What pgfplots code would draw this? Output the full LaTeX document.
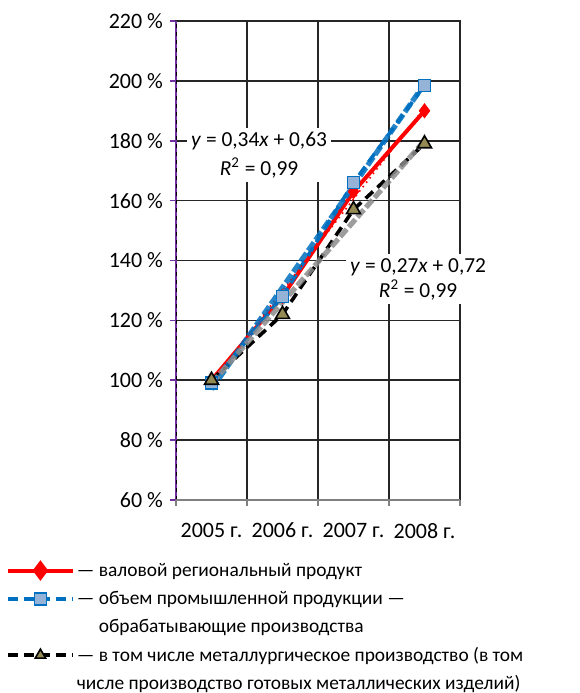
\documentclass[border=0pt]{standalone}
\usepackage{pgfplots}
\pgfplotsset{compat=1.18}
\usepackage{fontspec}
\setmainfont{Carlito}
\definecolor{xlred}{RGB}{255,0,0}
\definecolor{xlblue}{RGB}{0,112,192}
\definecolor{xlsq}{RGB}{149,179,215}
\definecolor{xltri}{RGB}{148,138,84}
\definecolor{xlgray}{RGB}{140,140,140}
\definecolor{xlviolet}{RGB}{112,48,160}
\begin{document}
\begin{tikzpicture}
\begin{axis}[
    name=ax,
    scale only axis,
    width=142pt, height=239.5pt,
    xmin=0, xmax=4, ymin=60, ymax=220,
    axis line style={black!85, line width=0.8pt},
    xtick={0.5,1.5,2.5,3.5},
    xticklabels={2005 г., 2006 г., 2007 г., 2008 г.},
    x tick label style={yshift=-5pt},
    xtick pos=left, ytick pos=left,
    ytick={60,80,...,220},
    yticklabel={\pgfmathprintnumber{\tick}~\%},
    /pgf/number format/assume math mode=true,
    tick label style={font=\fontsize{11}{13}\selectfont},
    ymajorgrids=true,
    major grid style={black!85, line width=0.8pt},
    minor xtick={1,2,3},
    xminorgrids=true,
    minor grid style={black!85, line width=0.8pt},
    tick align=outside,
    major tick length=3pt,
    minor tick length=0pt,
    xtick style={draw=none},
    ytick style={xlviolet, line width=0.8pt},
    clip=false,
    legend style={at={(axis description cs:-0.60,-0.117)}, anchor=north west,
        draw=none, fill=none, font=\fontsize{9.7}{12}\selectfont,
        row sep=0pt, inner xsep=0pt, inner ysep=0pt,
        nodes={inner xsep=1pt, inner ysep=1.5pt, text height=8.5pt, text depth=2.6pt}},
    legend cell align=left,
    legend image code/.code={\draw[mark repeat=2,mark phase=2] plot coordinates {(0cm,0cm)(0.57cm,0cm)(1.14cm,0cm)};},
]
% lines of the series
\addplot[xlred, line width=2pt, forget plot] coordinates {(0.5,100) (1.5,128) (2.5,163) (3.5,190)};
\addplot[xlblue, line width=1.8pt, dash pattern=on 5pt off 3pt, forget plot] coordinates {(0.5,99) (1.5,128) (2.5,166) (3.5,198.5)};
\addplot[black, line width=1.8pt, dash pattern=on 5pt off 3pt, forget plot] coordinates {(0.5,100) (1.5,122) (2.5,157) (3.5,179)};
% trend lines
\addplot[xlred, line width=0.8pt, dotted, forget plot] coordinates {(0.5,99.5) (3.5,191)};
\addplot[xlblue, line width=2.6pt, dash pattern=on 5pt off 1.5pt, opacity=0.85, forget plot] coordinates {(0.5,97) (3.5,199)};
\addplot[xlgray, line width=2.6pt, dash pattern=on 5pt off 1.5pt, opacity=0.85, forget plot] coordinates {(0.5,99) (3.5,180)};
% markers
\addplot[only marks, mark=diamond*, mark size=3.5pt, mark options={fill=xlred, draw=xlred}, forget plot] coordinates {(0.5,100) (1.5,128) (2.5,163) (3.5,190)};
\addplot[only marks, mark=square*, mark size=3pt, mark options={fill=xlsq, draw=xlblue, line width=0.8pt}, forget plot] coordinates {(0.5,99) (1.5,128) (2.5,166) (3.5,198.5)};
\addplot[only marks, mark=triangle*, mark size=4pt, mark options={fill=xltri, draw=black, line width=0.8pt}, forget plot] coordinates {(0.5,100) (1.5,122) (2.5,157) (3.5,179)};
% legend
\addlegendimage{xlred, line width=2pt, mark=diamond*, mark size=3.5pt, mark options={fill=xlred}}
\addlegendentry{— валовой региональный продукт}
\addlegendimage{xlblue, line width=1.8pt, dash pattern=on 5pt off 3pt, mark=square*, mark size=3pt, mark options={solid, fill=xlsq, draw=xlblue, line width=0.8pt}}
\addlegendentry{— объем промышленной продукции —}
\addlegendimage{empty legend}
\addlegendentry{\phantom{— }обрабатывающие производства}
\addlegendimage{black, line width=1.8pt, dash pattern=on 5pt off 3pt, mark=triangle*, mark size=3pt, mark options={solid, fill=xltri, draw=black, line width=0.8pt}}
\addlegendentry{— в том числе металлургическое производство (в том}
\addlegendimage{empty legend}
\addlegendentry{числе производство готовых металлических изделий)}
% trend equations
\node[fill=white, align=center, font=\fontsize{10.7}{14.5}\selectfont, inner sep=2pt] at (axis cs:1.17,175.3) {\textit{y} = 0,34\textit{x} + 0,63\\\textit{R}\textsuperscript{2} = 0,99};
\node[fill=white, align=center, font=\fontsize{10.7}{12.5}\selectfont, inner sep=2pt] at (axis cs:3.41,133.8) {\textit{y} = 0,27\textit{x} + 0,72\\\textit{R}\textsuperscript{2} = 0,99};
% coloured left and bottom axis lines with their tick marks
\draw[xlviolet, line width=1pt] (axis cs:0,60) -- (axis cs:0,220);
\draw[black, line width=0.4pt, dash pattern=on 2pt off 2pt] (axis cs:0,60) -- (axis cs:0,220);
\draw[gray, line width=0.8pt] (axis cs:0,60) -- (axis cs:4,60);
\draw[gray, line width=0.8pt] (axis cs:0,60) -- ([yshift=-3pt]axis cs:0,60);
\draw[gray, line width=0.8pt] (axis cs:1,60) -- ([yshift=-3pt]axis cs:1,60);
\draw[gray, line width=0.8pt] (axis cs:2,60) -- ([yshift=-3pt]axis cs:2,60);
\draw[gray, line width=0.8pt] (axis cs:3,60) -- ([yshift=-3pt]axis cs:3,60);
\draw[gray, line width=0.8pt] (axis cs:4,60) -- ([yshift=-3pt]axis cs:4,60);
\end{axis}
\pgfresetboundingbox
\path[use as bounding box] ([xshift=-88pt,yshift=-96.5pt]ax.south west) rectangle ([xshift=60pt,yshift=10.5pt]ax.north east);
\end{tikzpicture}
\end{document}
